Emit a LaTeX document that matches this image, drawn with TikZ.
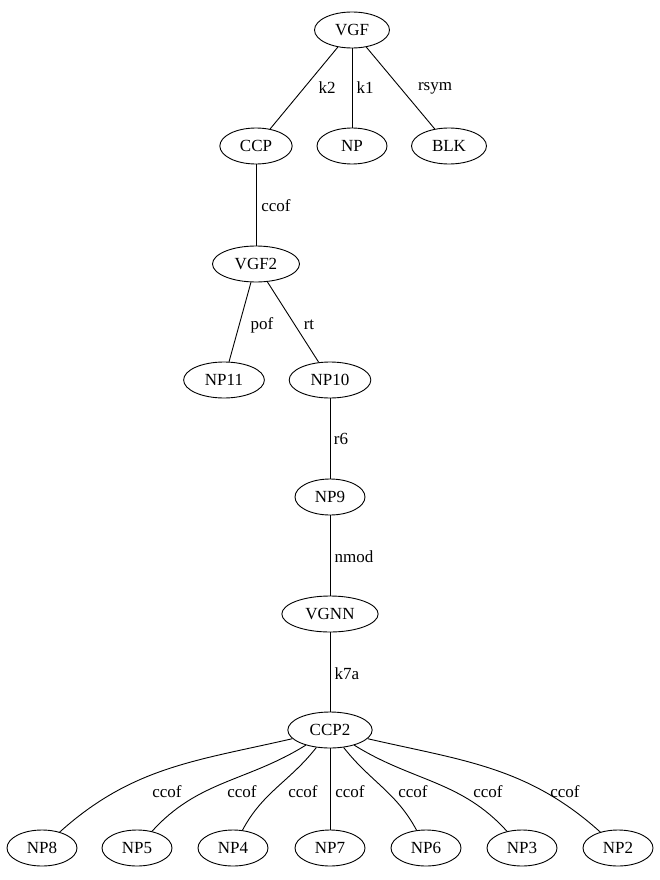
\documentclass[tikz,border=0pt]{standalone}
\usepackage{fontspec}
\setmainfont{Liberation Serif}
\usetikzlibrary{shapes.geometric}

\tikzset{
  nd/.style={draw,ellipse,inner xsep=9.5pt,inner ysep=0pt,minimum height=36pt,minimum width=70pt,font=\fontsize{17}{19}\selectfont},
  lbl/.style={font=\fontsize{17}{19}\selectfont}
}

\begin{document}
\begin{tikzpicture}[x=1pt,y=1pt,line width=0.9pt]
\useasboundingbox (0,0) rectangle (659,-880);
\node[nd] (VGF) at (352,-30) {VGF};
\node[nd] (CCP) at (256,-146) {CCP};
\node[nd] (NP) at (352,-146) {NP};
\node[nd] (BLK) at (449,-146) {BLK};
\node[nd] (VGF2) at (256,-264) {VGF2};
\node[nd] (NP11) at (224,-380) {NP11};
\node[nd] (NP10) at (330,-380) {NP10};
\node[nd] (NP9) at (330,-497) {NP9};
\node[nd] (VGNN) at (330,-614) {VGNN};
\node[nd] (CCP2) at (330,-730) {CCP2};
\node[nd] (NP8) at (42,-848) {NP8};
\node[nd] (NP5) at (137,-848) {NP5};
\node[nd] (NP4) at (233,-848) {NP4};
\node[nd] (NP7) at (330,-848) {NP7};
\node[nd] (NP6) at (426,-848) {NP6};
\node[nd] (NP3) at (522,-848) {NP3};
\node[nd] (NP2) at (618,-848) {NP2};
% edges
\draw (VGF)--(CCP) node[lbl] at (327,-88) {k2};
\draw (VGF)--(NP) node[lbl] at (365,-88) {k1};
\draw (VGF)--(BLK) node[lbl] at (435,-88) {rsym};
\draw (CCP)--(VGF2) node[lbl] at (276,-206) {ccof};
\draw (VGF2)--(NP11) node[lbl] at (262,-325) {pof};
\draw (VGF2)--(NP10) node[lbl] at (309,-325) {rt};
\draw (NP10)--(NP9) node[lbl] at (341,-439) {r6};
\draw (NP9)--(VGNN) node[lbl] at (354,-557) {nmod};
\draw (VGNN)--(CCP2) node[lbl] at (347,-674) {k7a};
\draw (CCP2) to[out=193,in=42] (NP8) node[lbl] at (167,-792) {ccof};
\draw (CCP2) to[out=212,in=48] (NP5) node[lbl] at (242,-792) {ccof};
\draw (CCP2) to[out=232,in=62] (NP4) node[lbl] at (303,-792) {ccof};
\draw (CCP2)--(NP7) node[lbl] at (350,-792) {ccof};
\draw (CCP2) to[out=308,in=118] (NP6) node[lbl] at (413,-792) {ccof};
\draw (CCP2) to[out=328,in=132] (NP3) node[lbl] at (488,-792) {ccof};
\draw (CCP2) to[out=347,in=138] (NP2) node[lbl] at (565,-792) {ccof};
\end{tikzpicture}
\end{document}
